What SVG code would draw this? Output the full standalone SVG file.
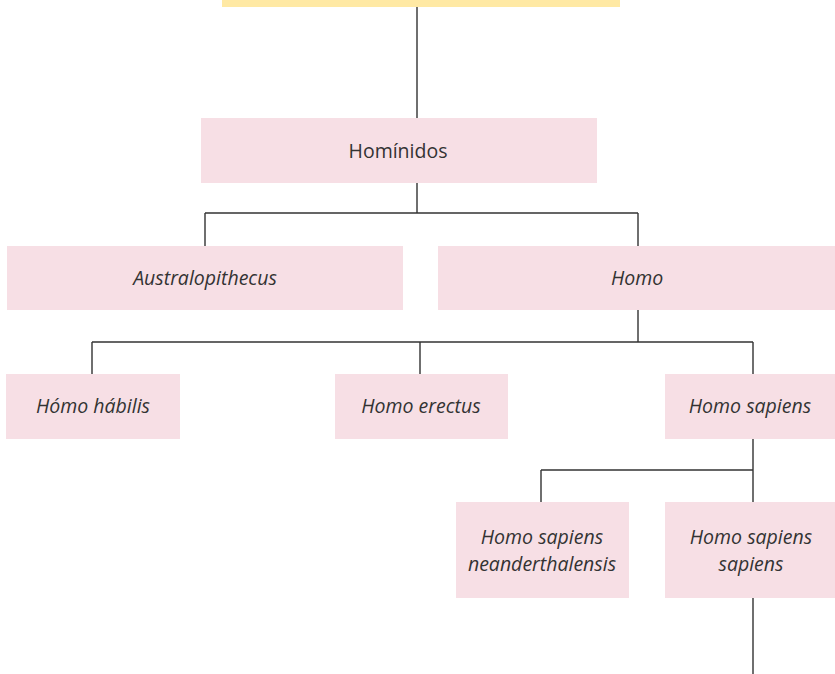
<svg xmlns="http://www.w3.org/2000/svg" width="835" height="674" viewBox="0 0 835 674">
<style>
.box{fill:#F7DFE5}
.top{fill:#FFE9A4}
.t{font-family:"Open Sans","Liberation Sans",sans-serif;font-size:19.5px;fill:#333;text-anchor:middle}
.i{font-style:italic}
.c{fill:none;stroke:#333;stroke-width:1.4}
</style>
<rect width="835" height="674" fill="#fff"/>
<g id="connectors">
<path class="c" d="M417 7V118M417 183V213M205 213H638M205 213V246M638 213V246"/>
<path class="c" d="M638 310V342M92 342H753M92 342V374M420 342V374M753 342V374"/>
<path class="c" d="M753 439V470M541 470H753M541 470V502M753 470V502M753 598V674"/>
</g>
<g id="top"><rect class="top" x="222" y="0" width="398" height="7"/></g>
<g id="hominidos"><rect class="box" x="201" y="118" width="396" height="65"/><text class="t" x="398" y="158">Homínidos</text></g>
<g id="australopithecus"><rect class="box" x="7" y="246" width="396" height="64"/><text class="t i" x="205" y="285">Australopithecus</text></g>
<g id="homo"><rect class="box" x="438" y="246" width="397" height="64"/><text class="t i" x="637" y="285">Homo</text></g>
<g id="habilis"><rect class="box" x="6" y="374" width="174" height="65"/><text class="t i" x="93" y="413">Hómo hábilis</text></g>
<g id="erectus"><rect class="box" x="335" y="374" width="173" height="65"/><text class="t i" x="421" y="413">Homo erectus</text></g>
<g id="sapiens"><rect class="box" x="665" y="374" width="170" height="65"/><text class="t i" x="750" y="413">Homo sapiens</text></g>
<g id="neanderthalensis"><rect class="box" x="456" y="502" width="173" height="96"/><text class="t i" x="542" y="544">Homo sapiens</text><text class="t i" x="542" y="571">neanderthalensis</text></g>
<g id="sapienssapiens"><rect class="box" x="665" y="502" width="170" height="96"/><text class="t i" x="751" y="544">Homo sapiens</text><text class="t i" x="751" y="571">sapiens</text></g>
</svg>
